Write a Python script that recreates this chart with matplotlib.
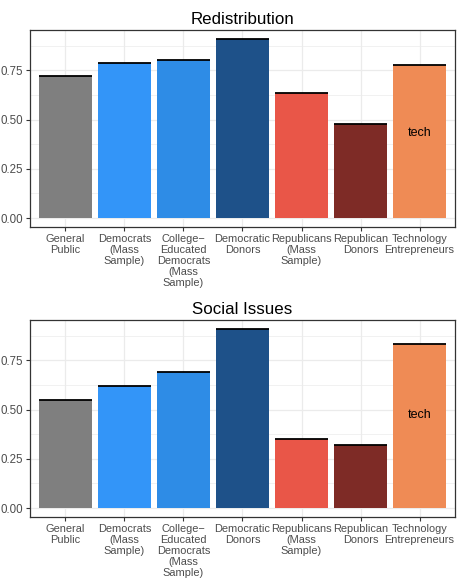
import numpy as np
import matplotlib
matplotlib.use("Agg")
import matplotlib.pyplot as plt
from matplotlib.ticker import MultipleLocator

plt.rcParams['font.family'] = ['Liberation Sans', 'DejaVu Sans']

# data
groups = ["General\nPublic", "Democrats\n(Mass\nSample)",
          "College\u2212\nEducated\nDemocrats\n(Mass\nSample)",
          "Democratic\nDonors", "Republicans\n(Mass\nSample)",
          "Republican\nDonors", "Technology\nEntrepreneurs"]
redistribution = [0.72, 0.789, 0.804, 0.910, 0.635, 0.478, 0.778]
social_issues = [0.551, 0.618, 0.690, 0.910, 0.349, 0.320, 0.833]
colors = ["#7f7f7f", "#3395f8", "#2e8ce6", "#1e5189",
          "#e95648", "#7e2b26", "#ef8b55"]
tech_label_y = {"Redistribution": 0.434, "Social Issues": 0.47}

fig = plt.figure(figsize=(4.64, 5.82), dpi=100)
W, H = 464.0, 582.0

def panel(top, title, values):
    ax = fig.add_axes([30 / W, 1 - (top + 197) / H, 425 / W, 197 / H])
    x = np.arange(1, len(values) + 1)
    ax.bar(x, values, width=0.9, color=colors, zorder=2)
    ax.hlines(values, x - 0.45, x + 0.45, color="black", lw=1.3, zorder=3)
    ax.text(7, tech_label_y[title], "tech", ha="center", va="center",
            fontsize=9, color="black", zorder=4)
    ax.set_xlim(0.4, 7.6)
    ax.set_ylim(-0.0455, 0.955)
    ax.yaxis.set_minor_locator(MultipleLocator(0.125))
    ax.set_yticks([0, 0.25, 0.5, 0.75])
    ax.set_yticklabels(["0.00", "0.25", "0.50", "0.75"], fontsize=8.3)
    ax.set_xticks(x)
    ax.set_xticklabels(groups, linespacing=1.12, fontsize=7.9)
    ax.grid(which="major", color="#ebebeb", lw=0.9, zorder=0)
    ax.grid(which="minor", axis="y", color="#ebebeb", lw=0.5, zorder=0)
    ax.tick_params(which="minor", length=0)
    ax.tick_params(which="major", length=3, color="#333333", width=0.8,
                   labelcolor="#4d4d4d", pad=2)
    for s in ax.spines.values():
        s.set_color("#333333")
        s.set_linewidth(0.9)
    ax.set_title(title, fontsize=12.2, pad=4)
    return ax

panel(30, "Redistribution", redistribution)
panel(320, "Social Issues", social_issues)

fig.savefig("out.png", dpi=100)
